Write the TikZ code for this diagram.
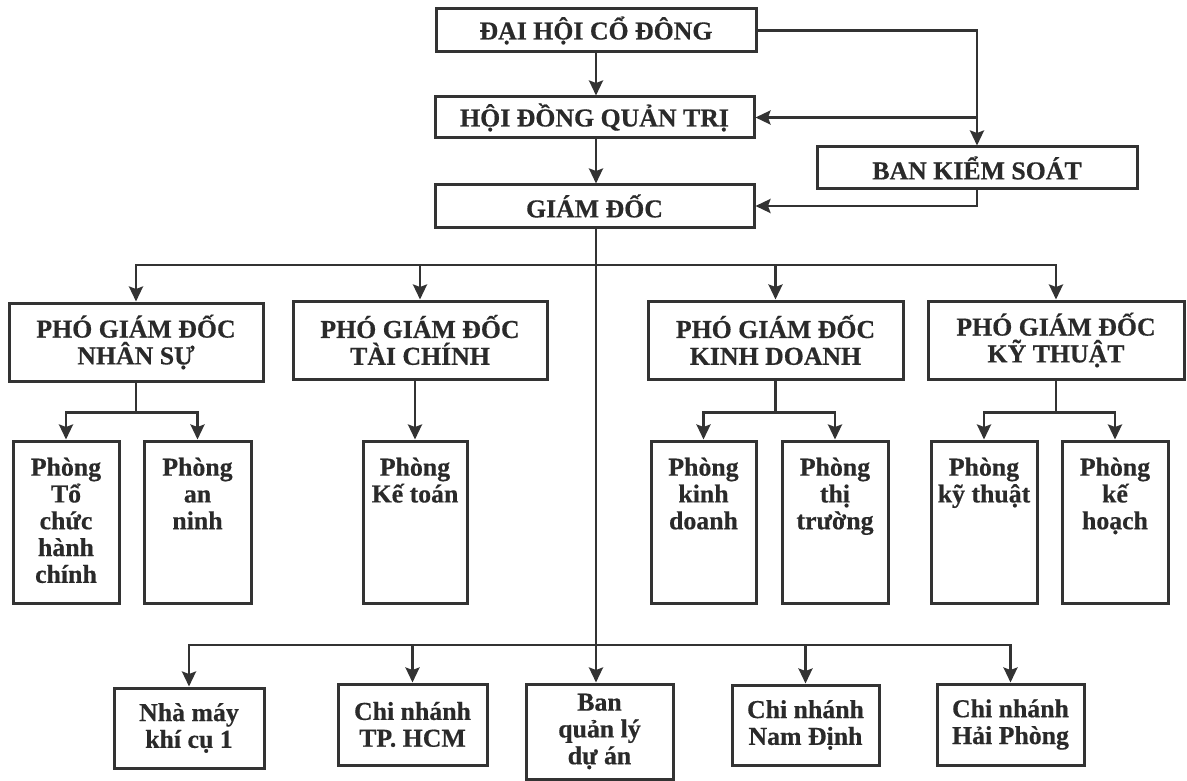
\documentclass[tikz,border=0pt]{standalone}
\usepackage{fontspec}
\setmainfont[BoldFeatures={FakeBold=0.5}]{Liberation Serif}
\usetikzlibrary{arrows.meta}
\definecolor{lc}{HTML}{333333}
\definecolor{tc}{HTML}{2A2A2A}
\begin{document}
\begin{tikzpicture}[x=1pt,y=-1pt,
  ln/.style={line width=2.7pt, draw=lc},
  arr/.style={ln, -{Stealth[length=15pt,width=14pt,inset=2.5pt]}},
  fnt/.style={font=\fontsize{25.8}{26.8}\selectfont\bfseries, text=tc, align=center},
  box/.style={draw=lc, line width=3pt, fill=white, inner sep=0pt, fnt},
  txt/.style={inner sep=0pt, fnt}]
\useasboundingbox (0,0) rectangle (1187,781);
% top
\node[box, minimum width=320pt, minimum height=43pt] (dhcd) at (596,30.5) {ĐẠI HỘI CỔ ĐÔNG};
\node[box, minimum width=319pt, minimum height=41pt] (hdqt) at (594.5,117.5) {HỘI ĐỒNG QUẢN TRỊ};
\node[box, minimum width=319pt, minimum height=42pt] (gd) at (594.5,206) {GIÁM ĐỐC};
\node[box, minimum width=320pt, minimum height=42pt] (bks) at (977,168) {BAN KIỂM SOÁT};
% deputies
\node[box, minimum width=254pt, minimum height=78pt] (pns) at (136,342) {PHÓ GIÁM ĐỐC\\NHÂN SỰ};
\node[box, minimum width=254pt, minimum height=78pt] (ptc) at (420,340) {PHÓ GIÁM ĐỐC\\TÀI CHÍNH};
\node[box, minimum width=255pt, minimum height=78pt] (pkd) at (775.5,340) {PHÓ GIÁM ĐỐC\\KINH DOANH};
\node[box, minimum width=256pt, minimum height=78pt] (pkt) at (1056,340) {PHÓ GIÁM ĐỐC\\KỸ THUẬT};
% departments
\node[box, minimum width=106pt, minimum height=162pt] (d1) at (66,522) {};
\node[box, minimum width=107pt, minimum height=162pt] (d2) at (197.5,522) {};
\node[box, minimum width=104pt, minimum height=162pt] (d3) at (415,522) {};
\node[box, minimum width=105pt, minimum height=162pt] (d4) at (703.5,522) {};
\node[box, minimum width=106pt, minimum height=162pt] (d5) at (835,522) {};
\node[box, minimum width=106pt, minimum height=162pt] (d6) at (984,522) {};
\node[box, minimum width=106pt, minimum height=162pt] (d7) at (1115,522) {};
\node[txt, anchor=north] (t1) at ([yshift=-18pt]d1.north) {Phòng\\Tổ\\chức\\hành\\chính};
\node[txt, anchor=north] (t2) at ([yshift=-18pt]d2.north) {Phòng\\an\\ninh};
\node[txt, anchor=north] (t3) at ([yshift=-18pt]d3.north) {Phòng\\Kế toán};
\node[txt, anchor=north] (t4) at ([yshift=-18pt]d4.north) {Phòng\\kinh\\doanh};
\node[txt, anchor=north] (t5) at ([yshift=-18pt]d5.north) {Phòng\\thị\\trường};
\node[txt, anchor=north] (t6) at ([yshift=-18pt]d6.north) {Phòng\\kỹ thuật};
\node[txt, anchor=north] (t7) at ([yshift=-18pt]d7.north) {Phòng\\kế\\hoạch};
% bottom units
\node[box, minimum width=150pt, minimum height=80pt] (nm) at (189,728) {Nhà máy\\khí cụ 1};
\node[box, minimum width=149pt, minimum height=81pt] (hcm) at (412.5,724.5) {Chi nhánh\\TP. HCM};
\node[box, minimum width=147pt, minimum height=95pt] (bql) at (599.5,731.5) {};
\node[txt, anchor=north] (t8) at ([yshift=-11pt]bql.north) {Ban\\quản lý\\dự án};
\node[box, minimum width=147pt, minimum height=80pt] (nd) at (805.5,725) {Chi nhánh\\Nam Định};
\node[box, minimum width=147pt, minimum height=81pt] (hp) at (1010.5,724.5) {Chi nhánh\\Hải Phòng};
% connectors
\coordinate (sp) at (596,0);
\coordinate (bus1) at (596,265);
\coordinate (bus2) at (596,645);
\draw[arr] (sp |- dhcd.south) -- (sp |- hdqt.north);
\draw[arr] (sp |- hdqt.south) -- (sp |- gd.north);
\draw[arr] (dhcd.east) -| (bks.north);
\draw[arr] (bks.north |- hdqt.east) -- (hdqt.east);
\draw[arr] (bks.south) |- (gd.east);
\draw[arr] (sp |- gd.south) -- (sp |- bql.north);
\draw[arr] (bus1) -| (pns.north);
\draw[arr] (bus1) -| (ptc.north);
\draw[arr] (bus1) -| (pkd.north);
\draw[arr] (bus1) -| (pkt.north);
\draw[arr] (pns.south) -- ++(0,30) -| (d1.north);
\draw[arr] (pns.south) -- ++(0,30) -| (d2.north);
\draw[arr] (d3.north |- ptc.south) -- (d3.north);
\draw[arr] (pkd.south) -- ++(0,32) -| (d4.north);
\draw[arr] (pkd.south) -- ++(0,32) -| (d5.north);
\draw[arr] (pkt.south) -- ++(0,32) -| (d6.north);
\draw[arr] (pkt.south) -- ++(0,32) -| (d7.north);
\draw[arr] (bus2) -| (nm.north);
\draw[arr] (bus2) -| (hcm.north);
\draw[arr] (bus2) -| (nd.north);
\draw[arr] (bus2) -| (hp.north);
\end{tikzpicture}
\end{document}
